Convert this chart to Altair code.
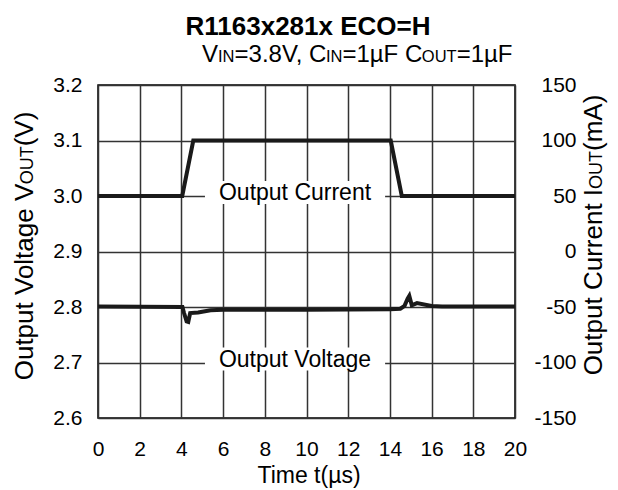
import altair as alt
import pandas as pd

# ---------------- data ----------------
time_i = [0, 4.04, 4.57, 14.04, 14.57, 20]
current_ma = [50, 50, 100, 100, 50, 50]

time_v = [0, 4.05, 4.12, 4.25, 4.33, 4.42, 4.8, 5.4, 6.0, 10.0, 14.0, 14.5,
          14.7, 14.85, 14.93, 15.05, 15.3, 16.0, 16.5, 20]
voltage_v = [2.801, 2.800, 2.790, 2.774, 2.773, 2.789, 2.790, 2.794, 2.795, 2.795,
             2.796, 2.797, 2.802, 2.815, 2.820, 2.803, 2.807, 2.802, 2.801, 2.801]

x_ticks = [0, 2, 4, 6, 8, 10, 12, 14, 16, 18, 20]
v_ticks = [2.6, 2.7, 2.8, 2.9, 3.0, 3.1, 3.2]
i_ticks = [-150, -100, -50, 0, 50, 100, 150]

label_text = ["Output Current", "Output Voltage"]
label_t = [9.45, 9.45]
label_v = [3.0, 2.7]

FONT = "Liberation Sans"
W, H = 417, 333
INK = "#1a1a1a"

# Arial/Liberation Sans advance widths (per 1000 em)
ADV = {'V': 667, 'I': 278, 'N': 722, '=': 584, '3': 556, '.': 278, '8': 556, ',': 278,
       ' ': 278, 'C': 722, '1': 556, 'µ': 556, 'F': 611, 'O': 778, 'U': 722, 'T': 611,
       'u': 556, 't': 278, 'p': 556, 'o': 556, 'l': 222, 'a': 556, 'g': 556, 'e': 556,
       '(': 333, ')': 333, 'm': 833, 'A': 667, 'r': 333, 'n': 556}
KERN = {"V,": -111, "Vo": -80}


def width(s, size):
    w = sum(ADV.get(c, 556) for c in s)
    w += sum(KERN.get(s[k:k + 2], 0) for k in range(len(s) - 1))
    return w * size / 1000.0


one = pd.DataFrame({"k": [0]})


def txt(s, x, y, size, align="left", angle=0, weight="normal", baseline="alphabetic"):
    return alt.Chart(one).mark_text(
        text=s, font=FONT, fontSize=size, align=align, baseline=baseline,
        angle=angle, fontWeight=weight, color="black"
    ).encode(x=alt.value(x), y=alt.value(y))


def hrow(pieces, right_x, y):
    total = sum(width(s, z) for s, z in pieces)
    x = right_x - total
    out = []
    for s, z in pieces:
        out.append(txt(s, x, y, z))
        x += width(s, z)
    return out


def vrow(pieces, base_x, center_y):
    total = sum(width(s, z) for s, z in pieces)
    y = center_y + total / 2
    out = []
    for s, z in pieces:
        out.append(txt(s, base_x, y, z, angle=270))
        y -= width(s, z)
    return out


dfv = pd.DataFrame({"t": time_v, "v": voltage_v})
dfi = pd.DataFrame({"t": time_i, "i": current_ma})
dfl = pd.DataFrame({"label": label_text, "t": label_t, "v": label_v})
dfl["t1"] = dfl["t"] - 4.32
dfl["t2"] = dfl["t"] + 4.32
dfl["v1"] = dfl["v"] - 0.0145
dfl["v2"] = dfl["v"] + 0.027

xscale = alt.Scale(domain=[0, 20], nice=False)
xaxis = alt.Axis(values=x_ticks, grid=True, title=None, labelFontSize=21,
                 labelPadding=20, labelBaseline="top", labelFlush=False)
vscale = alt.Scale(domain=[2.6, 3.2], nice=False, zero=False)
vaxis = alt.Axis(values=v_ticks, format=".1f", grid=True, title=None,
                 labelFontSize=21, labelPadding=16)

boxes = alt.Chart(dfl).mark_rect(color="white").encode(
    x=alt.X("t1:Q", scale=xscale, axis=xaxis), x2="t2:Q",
    y=alt.Y("v1:Q", scale=vscale, axis=vaxis), y2="v2:Q")

labels = alt.Chart(dfl).mark_text(font=FONT, fontSize=23, color="black",
                                  baseline="middle", dy=-3).encode(
    x=alt.X("t:Q", scale=xscale), y=alt.Y("v:Q", scale=vscale), text="label:N")

vline = alt.Chart(dfv).mark_line(color=INK, strokeWidth=4).encode(
    x=alt.X("t:Q", scale=xscale), y=alt.Y("v:Q", scale=vscale))

left = alt.layer(boxes, labels, vline)

iline = alt.Chart(dfi).mark_line(color=INK, strokeWidth=4).encode(
    x=alt.X("t:Q", scale=xscale),
    y=alt.Y("i:Q", scale=alt.Scale(domain=[-150, 150], nice=False),
            axis=alt.Axis(orient="right", values=i_ticks, grid=False, title=None,
                          labelFontSize=21, labelAlign="right", labelPadding=61,
                          labelExpr="'' + datum.value")))

texts = []
texts.append(txt("R1163x281x ECO=H", 210, -50, 26, align="center", weight="bold"))
texts += hrow([("V", 24), ("IN", 16.5), ("=3.8V, C", 24), ("IN", 16.5),
               ("=1µF C", 24), ("OUT", 16.5), ("=1µF", 24)], 414, -23)
texts += vrow([("Output Voltage V", 26), ("OUT", 18), ("(V)", 26)], -65, 161)
texts += vrow([("Output Current I", 26), ("OUT", 18), ("(mA)", 26)], 504, 150)
texts.append(txt("Time t(µs)", 211, 398, 23, align="center"))

chart = alt.layer(left, iline, *texts).resolve_scale(y="independent").properties(
    width=W, height=H,
    autosize=alt.AutoSizeParams(type="none"),
    padding={"left": 90, "top": 77, "right": 95, "bottom": 72},
    background="white",
).configure_view(stroke="black", strokeWidth=1.5).configure_axis(
    labelFont=FONT, labelColor="black", ticks=False, domain=False,
    gridColor="#333333", gridWidth=1.5, gridOpacity=1)

chart.save("out.html", embed_options={"renderer": "svg", "actions": False})
